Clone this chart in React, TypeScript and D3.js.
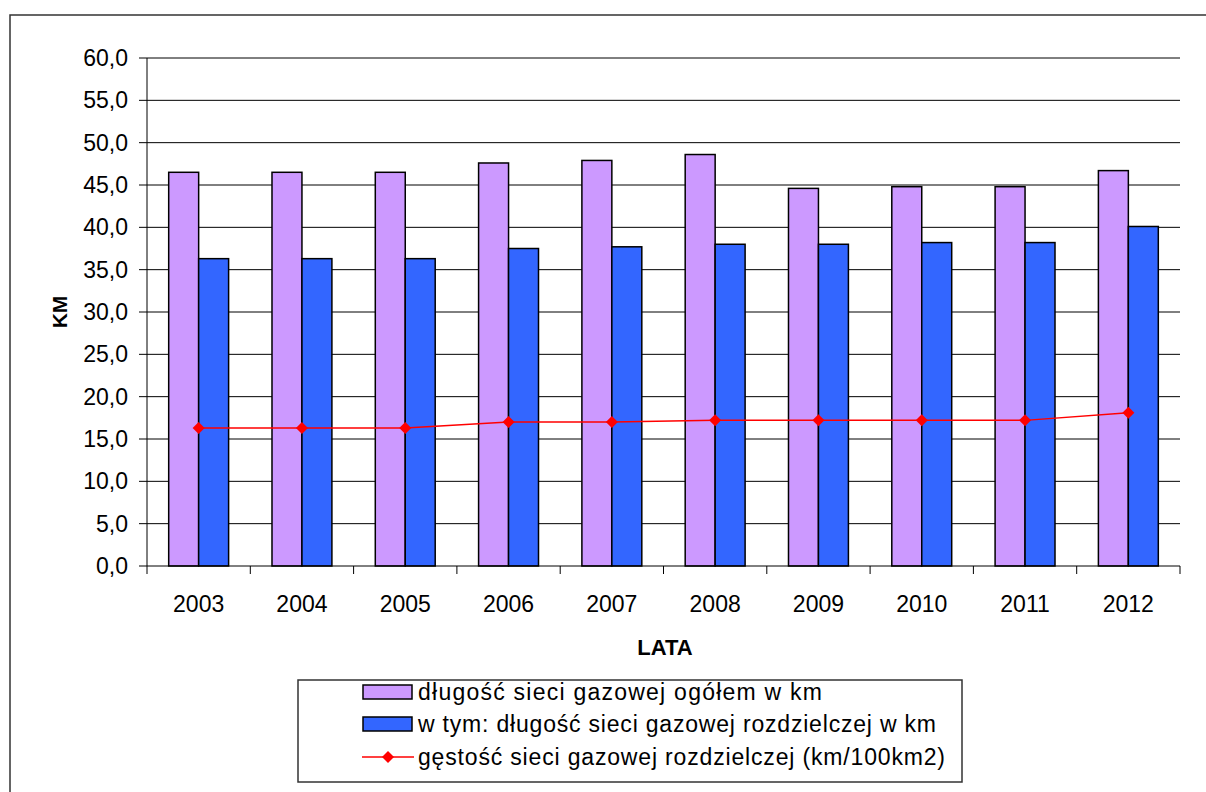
import React from "react";
import * as d3 from "d3";

const years = ["2003", "2004", "2005", "2006", "2007", "2008", "2009", "2010", "2011", "2012"];
const totalLength = [46.5, 46.5, 46.5, 47.6, 47.9, 48.6, 44.6, 44.8, 44.8, 46.7];
const distLength = [36.3, 36.3, 36.3, 37.5, 37.7, 38.0, 38.0, 38.2, 38.2, 40.1];
const density = [16.3, 16.3, 16.3, 17.0, 17.0, 17.2, 17.2, 17.2, 17.2, 18.1];
const yTicks = [0, 5, 10, 15, 20, 25, 30, 35, 40, 45, 50, 55, 60];
const legendLabels = [
  "długość sieci gazowej ogółem w km",
  "w tym: długość sieci gazowej rozdzielczej w km",
  "gęstość sieci gazowej rozdzielczej (km/100km2)",
];

const W = 1206;
const H = 792;
const left = 147;
const right = 1180;
const top = 58;
const bottom = 566;
const FONT = "'Liberation Sans', Arial, sans-serif";
const legendTextWidths = [404, 518, 527];

export default function App() {
  const x = d3.scaleBand<string>().domain(years).range([left, right]).paddingInner(0).paddingOuter(0);
  const y = d3.scaleLinear().domain([0, 60]).range([bottom, top]);
  const bw = x.bandwidth();
  const barW = bw * 0.29;
  const fmt = (v: number) => v.toFixed(1).replace(".", ",");
  const line = d3
    .line<number>()
    .x((_, i) => (x(years[i]) as number) + bw / 2)
    .y((d) => y(d));
  const diamond = (cx: number, cy: number, r: number) =>
    `M${cx},${cy - r}L${cx + r},${cy}L${cx},${cy + r}L${cx - r},${cy}Z`;

  const legX = 298;
  const legY = 680;
  const rowY = [692, 724, 757];

  return (
    <svg
      width={W}
      height={H}
      style={{ position: "absolute", left: 0, top: 0, background: "#fff" }}
      fontFamily={FONT}
    >
      <rect x={0} y={0} width={W} height={H} fill="#fff" />
      <rect x={10} y={15} width={W + 20} height={H + 20} fill="none" stroke="#333" strokeWidth={1.5} />
      {/* gridlines */}
      {yTicks.map((t) => (
        <g key={t}>
          {t > 0 && <line x1={left} x2={right} y1={y(t)} y2={y(t)} stroke="#000" strokeWidth={1} />}
          <line x1={left - 8} x2={left} y1={y(t)} y2={y(t)} stroke="#000" strokeWidth={1} />
          <text x={128} y={y(t)} dy="0.35em" textAnchor="end" fontSize={23} fill="#000">
            {fmt(t)}
          </text>
        </g>
      ))}
      {/* bars */}
      {years.map((yr, i) => {
        const cx = (x(yr) as number) + bw / 2;
        return (
          <g key={yr}>
            <rect x={cx - barW} y={y(totalLength[i])} width={barW} height={bottom - y(totalLength[i])} fill="#CC99FF" stroke="#000" strokeWidth={1.5} />
            <rect x={cx} y={y(distLength[i])} width={barW} height={bottom - y(distLength[i])} fill="#3366FF" stroke="#000" strokeWidth={1.5} />
            <text x={cx} y={604} dy="0.35em" textAnchor="middle" fontSize={23} fill="#000">
              {yr}
            </text>
          </g>
        );
      })}
      {/* axes */}
      <line x1={left} x2={left} y1={top} y2={bottom} stroke="#000" strokeWidth={1} />
      <line x1={left} x2={right} y1={bottom} y2={bottom} stroke="#000" strokeWidth={1} />
      {years.map((yr) => (
        <line key={"t" + yr} x1={x(yr) as number} x2={x(yr) as number} y1={bottom} y2={bottom + 8} stroke="#000" />
      ))}
      <line x1={right} x2={right} y1={bottom} y2={bottom + 8} stroke="#000" />
      {/* line series */}
      <path d={line(density) || ""} fill="none" stroke="#FF0000" strokeWidth={1.5} />
      {density.map((d, i) => (
        <path key={"m" + i} d={diamond((x(years[i]) as number) + bw / 2, y(d), 6)} fill="#FF0000" />
      ))}
      {/* axis titles */}
      <text x={60} y={312} dy="0.35em" textAnchor="middle" fontSize={21} fontWeight="bold" transform="rotate(-90 60 312)">
        KM
      </text>
      <text x={665} y={647} dy="0.35em" textAnchor="middle" fontSize={22} fontWeight="bold">
        LATA
      </text>
      {/* legend */}
      <rect x={legX} y={legY} width={962 - legX} height={782 - legY} fill="#fff" stroke="#333" strokeWidth={1.5} />
      <rect x={363} y={rowY[0] - 7} width={49} height={14} fill="#CC99FF" stroke="#000" strokeWidth={1.5} />
      <rect x={363} y={rowY[1] - 7} width={49} height={14} fill="#3366FF" stroke="#000" strokeWidth={1.5} />
      <line x1={362} x2={414} y1={rowY[2]} y2={rowY[2]} stroke="#FF0000" strokeWidth={1.5} />
      <path d={diamond(388, rowY[2], 6)} fill="#FF0000" />
      {legendLabels.map((l, i) => (
        <text
          key={l}
          x={418}
          y={rowY[i]}
          dy="0.35em"
          fontSize={23}
          fill="#000"
          textLength={legendTextWidths[i]}
          lengthAdjust="spacing"
        >
          {l}
        </text>
      ))}
    </svg>
  );
}
